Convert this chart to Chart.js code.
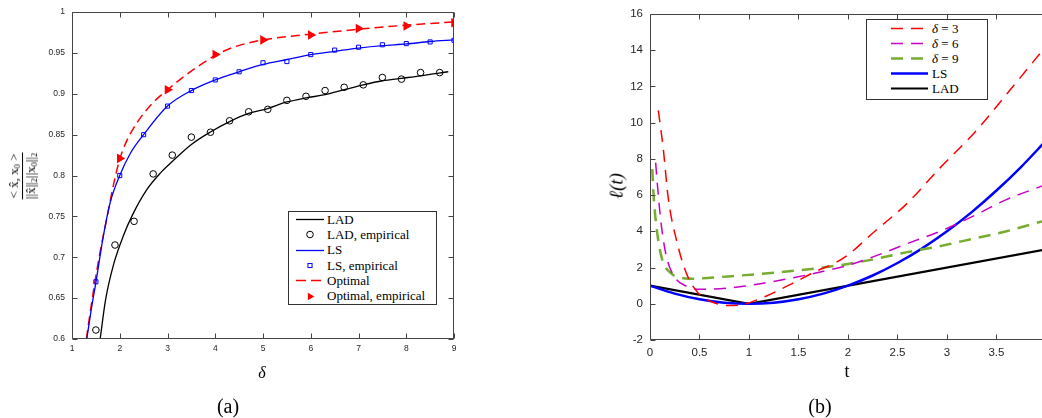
<!DOCTYPE html>
<html>
<head>
<meta charset="utf-8">
<script src="https://cdn.jsdelivr.net/npm/chart.js@4.4.0/dist/chart.umd.min.js"></script>
<style>
  html, body { margin: 0; padding: 0; background: #fff; }
  body { width: 1042px; height: 418px; position: relative; overflow: hidden; font-family: "Liberation Serif", "DejaVu Serif", serif; color: #000; }
  .panel { position: absolute; top: 0; height: 418px; }
  #panel-a { left: 0; width: 480px; }
  #panel-b { left: 560px; width: 482px; }
  .legend { position: absolute; background: #fff; border: 1px solid #333; font-size: 13px; box-sizing: border-box; }
  .legend .row { display: flex; align-items: center; white-space: nowrap; }
  .legend svg { flex: none; display: block; }
  .label { position: absolute; white-space: nowrap; transform: translate(-50%, -50%); line-height: 1; }
  .rot { transform: translate(-50%, -50%) rotate(-90deg); }
  .frac { display: inline-flex; flex-direction: column; align-items: center; font-size: 13px; }
  .frac .num { border-bottom: 1px solid #000; padding: 0 1px 1px; }
  .frac .den { padding-top: 1px; }
  sub { font-size: 65%; vertical-align: -2px; }
</style>
</head>
<body>
<div class="panel" id="panel-a"><canvas id="chartA"></canvas></div>
<div class="panel" id="panel-b"><canvas id="chartB"></canvas></div>

<div class="legend" id="legend-a" style="left:288px; top:211px; width:149px;"></div>
<div class="legend" id="legend-b" style="left:866px; top:19px; width:122px; padding:1px 0 3px;"></div>

<div class="label rot" style="left:22px; top:176px;">
  <span class="frac"><span class="num">&lt; x&#770;, x<sub>0</sub> &gt;</span><span class="den">||x&#770;||<sub>2</sub>||x<sub>0</sub>||<sub>2</sub></span></span>
</div>
<div class="label" style="left:262px; top:373px; font-size:16px; font-style:italic;">δ</div>
<div class="label" style="left:228px; top:406px; font-size:20px;">(a)</div>

<div class="label rot" style="left:616px; top:186px; font-size:19px; font-style:italic;">ℓ(t)</div>
<div class="label" style="left:847px; top:371px; font-size:18px;">t</div>
<div class="label" style="left:820px; top:406px; font-size:20px;">(b)</div>

<script>
// ---- panel (a): correlation vs delta ----
const deltaTicks = [1, 2, 3, 4, 5, 6, 7, 8, 9];
const corrTicks = [0.6, 0.65, 0.7, 0.75, 0.8, 0.85, 0.9, 0.95, 1];

const ladDelta = [1.59, 1.7, 1.87, 2.08, 2.26, 2.57, 2.85, 3.06, 3.5, 3.89, 4.3, 4.7, 5.1, 5.5, 5.9, 6.3, 6.7, 7.1, 7.5, 7.9, 8.3, 8.88];
const ladTheory = [0.6, 0.647, 0.691, 0.727, 0.751, 0.783, 0.803, 0.815, 0.838, 0.853, 0.866, 0.876, 0.882, 0.89, 0.895, 0.899, 0.905, 0.911, 0.916, 0.919, 0.922, 0.927];
const ladEmpDelta = [1.5, 1.9, 2.3, 2.7, 3.1, 3.5, 3.9, 4.3, 4.7, 5.1, 5.5, 5.9, 6.3, 6.7, 7.1, 7.5, 7.9, 8.3, 8.7];
const ladEmp = [0.611, 0.715, 0.744, 0.802, 0.825, 0.847, 0.853, 0.867, 0.878, 0.881, 0.892, 0.897, 0.904, 0.908, 0.911, 0.92, 0.918, 0.926, 0.926];

const lsDelta = [1.31, 1.4, 1.5, 1.66, 1.8, 2, 2.22, 2.5, 3, 3.5, 4, 4.5, 5, 5.5, 6, 6.5, 7, 7.5, 8, 8.5, 9];
const lsTheory = [0.6, 0.635, 0.669, 0.727, 0.767, 0.8, 0.827, 0.85, 0.885, 0.904, 0.917, 0.927, 0.936, 0.942, 0.948, 0.952, 0.956, 0.959, 0.961, 0.964, 0.966];
const lsEmpDelta = [1.5, 2, 2.5, 3, 3.5, 4, 4.5, 5, 5.5, 6, 6.5, 7, 7.5, 8, 8.5, 9];
const lsEmp = [0.67, 0.8, 0.85, 0.885, 0.904, 0.917, 0.927, 0.938, 0.9395, 0.948, 0.9535, 0.957, 0.96, 0.9615, 0.9635, 0.9655];

const optDelta = [1.3, 1.45, 1.59, 1.73, 1.87, 2, 2.15, 2.29, 2.5, 2.71, 3, 3.41, 4, 4.38, 5, 6, 7, 8, 9];
const optTheory = [0.6, 0.659, 0.707, 0.748, 0.789, 0.82, 0.843, 0.858, 0.876, 0.89, 0.905, 0.924, 0.947, 0.957, 0.966, 0.973, 0.979, 0.984, 0.988];
const optEmpDelta = [2, 3, 4, 5, 6, 7, 8, 9];
const optEmp = [0.821, 0.905, 0.948, 0.966, 0.972, 0.98, 0.983, 0.987];

// ---- panel (b): loss functions ----
const tTicks = [0, 0.5, 1, 1.5, 2, 2.5, 3, 3.5];
const lossTicks = [-2, 0, 2, 4, 6, 8, 10, 12, 14, 16];

const tD3 = [0.084, 0.135, 0.185, 0.27, 0.37, 0.49, 0.62, 0.81, 0.96, 1.16, 1.43, 1.7, 1.85, 2, 2.26, 2.59, 2.93, 3.27, 3.6, 3.96];
const lossD3 = [10.68, 8.51, 5.8, 3.46, 1.65, 0.57, 0.11, -0.1, -0.01, 0.39, 1.1, 1.85, 2.2, 2.7, 3.95, 5.5, 7.5, 9.4, 11.55, 13.95];
const tD6 = [0.057, 0.084, 0.118, 0.168, 0.25, 0.35, 0.505, 0.79, 1.13, 1.46, 1.8, 2, 2.26, 2.59, 2.93, 3.27, 3.6, 3.96];
const lossD6 = [7.79, 5.98, 4.18, 2.55, 1.47, 1.02, 0.8, 0.87, 1.12, 1.45, 1.85, 2.12, 2.6, 3.3, 4.0, 4.85, 5.75, 6.5];
const tD9 = [0.023, 0.034, 0.067, 0.118, 0.22, 0.29, 0.39, 0.79, 1.3, 1.63, 2, 2.3, 2.6, 2.9, 3.27, 3.6, 3.96];
const lossD9 = [7.43, 6.16, 4.18, 2.55, 1.65, 1.47, 1.38, 1.51, 1.74, 1.92, 2.2, 2.5, 2.85, 3.15, 3.6, 4.0, 4.55];
const tLs = [0, 0.25, 0.5, 0.75, 1, 1.25, 1.5, 1.75, 2, 2.25, 2.5, 2.75, 3, 3.25, 3.5, 3.75, 4];
const lossLs = [1, 0.56, 0.25, 0.06, 0, 0.06, 0.25, 0.56, 1, 1.56, 2.25, 3.06, 4, 5.06, 6.25, 7.56, 9];
const tLad = [0, 1, 4];
const lossLad = [1, 0, 3];

// ---- helpers ----
function pts(xs, ys) {
  return xs.map((x, i) => ({ x: x, y: ys[i] }));
}

function fixedTicks(values) {
  return function (scale) {
    scale.ticks = values.map((v) => ({ value: v }));
  };
}

function tickLabel(v) {
  return String(Number(v.toFixed(2)));
}

// matlab style box with inward ticks
const innerTicks = {
  id: "innerTicks",
  afterDatasetsDraw(chart, args, opts) {
    const { ctx, chartArea: a, scales } = chart;
    const len = opts.length || 5;
    const L = Math.round(a.left) + 0.5;
    const R = Math.round(a.right) - 0.5;
    const T = Math.round(a.top) + 0.5;
    const B = Math.round(a.bottom) - 0.5;
    ctx.save();
    ctx.strokeStyle = opts.color || "#444";
    ctx.lineWidth = 1;
    ctx.beginPath();
    ctx.moveTo(L, T); ctx.lineTo(R + 0.5, T);
    ctx.moveTo(L, T); ctx.lineTo(L, B);
    ctx.moveTo(L, B); ctx.lineTo(R + 0.5, B);
    if (opts.right !== false) { ctx.moveTo(R, T); ctx.lineTo(R, B); }
    for (const t of scales.x.ticks) {
      const px = Math.round(scales.x.getPixelForValue(t.value)) + 0.5;
      ctx.moveTo(px, B); ctx.lineTo(px, B - len);
      ctx.moveTo(px, T); ctx.lineTo(px, T + len);
    }
    for (const t of scales.y.ticks) {
      const py = Math.round(scales.y.getPixelForValue(t.value)) + 0.5;
      ctx.moveTo(L, py); ctx.lineTo(L + len, py);
      if (opts.right !== false) { ctx.moveTo(R, py); ctx.lineTo(R - len, py); }
    }
    ctx.stroke();
    ctx.restore();
  },
};

function markerSvg(ds, cx, cy) {
  const r = ds.pointRadius;
  if (ds.pointStyle === "circle") {
    return '<circle cx="' + cx + '" cy="' + cy + '" r="' + r + '" fill="none" stroke="' + ds.borderColor + '" stroke-width="1"/>';
  }
  if (ds.pointStyle === "rect") {
    const s = r * Math.SQRT1_2;
    return '<rect x="' + (cx - s) + '" y="' + (cy - s) + '" width="' + 2 * s + '" height="' + 2 * s + '" fill="none" stroke="' + ds.borderColor + '" stroke-width="1"/>';
  }
  const q = r * 0.8;
  return '<polygon points="' + (cx + q) + "," + cy + " " + (cx - q / 2) + "," + (cy - q * 0.866) + " " + (cx - q / 2) + "," + (cy + q * 0.866) + '" fill="' + ds.backgroundColor + '"/>';
}

function buildLegend(chart, el, o) {
  el.innerHTML = "";
  for (const ds of chart.data.datasets) {
    const row = document.createElement("div");
    row.className = "row";
    row.style.height = o.rowHeight + "px";
    row.style.paddingLeft = o.indent + "px";
    const w = o.sampleWidth;
    const h = Math.round(o.rowHeight);
    const cy = h / 2;
    let svg = '<svg width="' + w + '" height="' + h + '">';
    if (ds.showLine === false) {
      svg += markerSvg(ds, w / 2, cy);
    } else {
      const dash = ds.legendDash || [];
      svg +=
        '<line x1="0" y1="' + cy + '" x2="' + w + '" y2="' + cy +
        '" stroke="' + ds.borderColor + '" stroke-width="' + ds.borderWidth + '"' +
        (dash.length ? ' stroke-dasharray="' + dash.join(" ") + '"' : "") + "/>";
    }
    svg += "</svg>";
    row.innerHTML = svg + '<span style="margin-left:' + o.gap + 'px">' + ds.label.replace("δ", "<i>δ</i>") + "</span>";
    el.appendChild(row);
  }
}

const tickFont = { family: "'Liberation Sans', Arial, sans-serif" };

function baseOptions(o) {
  return {
    responsive: true,
    maintainAspectRatio: false,
    animation: false,
    events: [],
    layout: { padding: o.padding },
    plugins: {
      legend: { display: false },
      tooltip: { enabled: false },
      innerTicks: { length: 5, color: "#444", right: o.rightBorder },
    },
    scales: {
      x: {
        type: "linear",
        min: o.xMin,
        max: o.xMax,
        grid: { display: false, drawTicks: false },
        border: { display: false },
        afterBuildTicks: fixedTicks(o.xTicks),
        afterFit: (s) => { s.height = 30; },
        ticks: {
          color: "#262626",
          padding: o.xPad,
          maxRotation: 0,
          autoSkip: false,
          font: Object.assign({ size: o.fontSize }, tickFont),
          callback: tickLabel,
        },
      },
      y: {
        type: "linear",
        min: o.yMin,
        max: o.yMax,
        grid: { display: false, drawTicks: false },
        border: { display: false },
        afterBuildTicks: fixedTicks(o.yTicks),
        afterFit: (s) => { s.width = o.yWidth; },
        ticks: {
          color: "#262626",
          padding: 7,
          autoSkip: false,
          font: Object.assign({ size: o.fontSize }, tickFont),
          callback: tickLabel,
        },
      },
    },
  };
}

// ---- panel (a) ----
const chartA = new Chart(document.getElementById("chartA"), {
  type: "line",
  data: {
    datasets: [
      { label: "LAD", data: pts(ladDelta, ladTheory), borderColor: "#000", borderWidth: 1.3, pointRadius: 0, cubicInterpolationMode: "monotone" },
      { label: "LAD, empirical", data: pts(ladEmpDelta, ladEmp), showLine: false, pointStyle: "circle", pointRadius: 3.3, pointBorderWidth: 1, borderColor: "#000", backgroundColor: "rgba(0,0,0,0)" },
      { label: "LS", data: pts(lsDelta, lsTheory), borderColor: "#0000ff", borderWidth: 1.3, pointRadius: 0, cubicInterpolationMode: "monotone" },
      { label: "LS, empirical", data: pts(lsEmpDelta, lsEmp), showLine: false, pointStyle: "rect", pointRadius: 2.9, pointBorderWidth: 1, borderColor: "#0000ff", backgroundColor: "rgba(0,0,0,0)" },
      { label: "Optimal", data: pts(optDelta, optTheory), borderColor: "#ff0000", borderWidth: 1.5, borderDash: [9, 5], legendDash: [10, 5], pointRadius: 0, cubicInterpolationMode: "monotone" },
      { label: "Optimal, empirical", data: pts(optEmpDelta, optEmp), showLine: false, pointStyle: "triangle", rotation: 90, pointRadius: 5.5, pointBorderWidth: 0, borderColor: "#ff0000", backgroundColor: "#ff0000" },
    ],
  },
  options: baseOptions({
    padding: { left: 0, top: 6, right: 26, bottom: 49 },
    xMin: 1, xMax: 9, yMin: 0.6, yMax: 1,
    xTicks: deltaTicks, yTicks: corrTicks,
    yWidth: 72, xPad: 5, fontSize: 8.5, rightBorder: true,
  }),
  plugins: [innerTicks],
});

// ---- panel (b) ----
const chartB = new Chart(document.getElementById("chartB"), {
  type: "line",
  data: {
    datasets: [
      { label: "δ = 3", data: pts(tD3, lossD3), borderColor: "#ff0000", borderWidth: 1.5, borderDash: [12, 8], legendDash: [12, 8], pointRadius: 0, cubicInterpolationMode: "monotone" },
      { label: "δ = 6", data: pts(tD6, lossD6), borderColor: "#c800c8", borderWidth: 1.5, borderDash: [12, 8], legendDash: [12, 8], pointRadius: 0, cubicInterpolationMode: "monotone" },
      { label: "δ = 9", data: pts(tD9, lossD9), borderColor: "#77ac30", borderWidth: 2.5, borderDash: [12, 8], legendDash: [12, 8], pointRadius: 0, cubicInterpolationMode: "monotone" },
      { label: "LS", data: pts(tLs, lossLs), borderColor: "#0000ff", borderWidth: 2.5, pointRadius: 0, cubicInterpolationMode: "monotone" },
      { label: "LAD", data: pts(tLad, lossLad), borderColor: "#000", borderWidth: 2.2, pointRadius: 0 },
    ],
  },
  options: baseOptions({
    padding: { left: 0, top: 8, right: 0, bottom: 48 },
    xMin: 0, xMax: 3.96, yMin: -2, yMax: 16,
    xTicks: tTicks, yTicks: lossTicks,
    yWidth: 90, xPad: 6, fontSize: 11.5, rightBorder: false,
  }),
  plugins: [innerTicks],
});

buildLegend(chartA, document.getElementById("legend-a"), { rowHeight: 15.3, indent: 7, sampleWidth: 28, gap: 3 });
buildLegend(chartB, document.getElementById("legend-b"), { rowHeight: 15.1, indent: 24, sampleWidth: 37, gap: 4 });
</script>
</body>
</html>
